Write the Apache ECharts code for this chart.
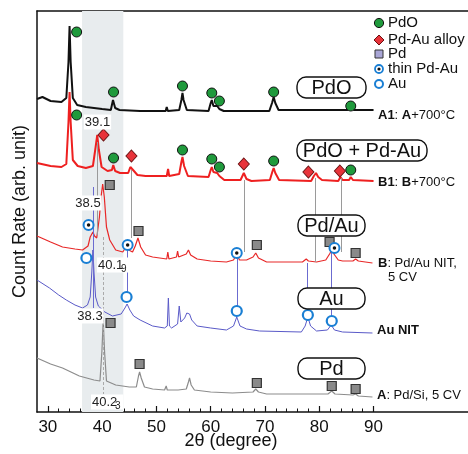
<!DOCTYPE html>
<html>
<head>
<meta charset="utf-8">
<script src="https://cdn.jsdelivr.net/npm/echarts@6/dist/echarts.min.js"></script>
<style>html,body{margin:0;padding:0;background:#fff}#chart{width:468px;height:454px}</style>
</head>
<body>
<div id="chart"></div>
<script>
// 2-theta tick labels and minor ticks
const tickLabels = [30, 40, 50, 60, 70, 80, 90];
const minorTicks = [32, 34, 36, 38, 42, 44, 46, 48, 52, 54, 56, 58, 62, 64, 66, 68, 72, 74, 76, 78, 82, 84, 86, 88];

// scans: [2theta, counts (arb.)]
const scanA1 = [[28.0,313],[29.0,315],[30.5,311],[32.5,310],[33.4,314],[33.8,350],[34.0,386],[34.2,350],[34.6,314],[35.4,307],[37.0,305],[40.0,303],[41.6,302],[42.0,312],[42.4,304],[43.2,302],[47.0,301],[51.7,301],[51.9,305],[52.1,301],[54.2,302],[54.6,312],[54.8,319],[55.0,312],[55.6,302],[59.6,301],[60.0,309],[60.2,312],[60.5,306],[61.2,306],[61.6,303],[62.4,301],[70.8,301],[71.3,309],[71.6,315],[71.9,309],[72.5,302],[85.2,302],[85.8,305],[86.4,302],[90.0,302]];
const scanB1 = [[28.0,249],[30.5,246],[32.5,245],[33.4,248],[33.8,290],[34.0,320],[34.2,290],[34.6,252],[35.5,246],[37.0,244],[38.3,246],[38.8,265],[39.1,277],[39.4,262],[39.9,245],[41.0,241],[41.8,242],[42.05,247],[42.4,241],[43.3,239],[44.8,239],[45.2,245],[45.4,247],[45.7,242],[46.5,237],[48.0,236],[51.9,236],[52.15,243],[52.35,236],[54.2,238],[54.6,250],[54.8,255],[55.1,246],[55.8,236],[59.6,235],[60.0,242],[60.2,245],[60.5,240],[61.2,239],[61.6,236],[62.5,232],[65.5,232],[66.1,239],[66.6,233],[67.5,231],[70.9,232],[71.4,241],[71.6,244],[71.9,239],[72.6,232],[78.5,231],[79.0,236],[79.4,239],[79.8,235],[80.5,232],[83.5,231],[83.9,235],[84.3,232],[85.5,232],[85.8,235],[86.2,232],[90.0,231]];
const scanB = [[28.0,176],[30.5,170],[32.7,165],[35.0,163],[36.4,162],[37.4,166],[37.8,175],[38.3,180],[38.6,176],[39.0,174],[39.5,195],[39.8,215],[40.1,228],[40.4,215],[40.8,185],[41.4,172],[42.5,162],[43.8,160],[44.4,165],[44.65,169],[44.9,162],[45.6,160],[46.1,166],[46.6,174],[47.1,165],[48.0,157],[49.3,155],[51.9,153],[52.1,160],[52.3,153],[53.7,155],[53.9,161],[54.1,155],[55.5,158],[55.9,162],[56.3,157],[57.5,153],[60.0,151],[62.9,150],[64.2,152],[64.8,158],[65.3,152],[66.6,152],[67.8,155],[68.3,159],[68.8,154],[70.3,150],[76.9,150],[77.6,153],[78.0,151],[79.5,150],[81.2,152],[81.9,158],[82.3,162],[82.7,158],[83.5,152],[84.3,151],[86.2,151],[86.7,153],[87.2,151],[89.8,149]];
const scanAuNIT = [[28.0,132],[30.3,124],[32.0,117],[33.4,112],[35.0,107],[36.4,104],[37.3,107],[37.8,115],[38.1,140],[38.3,162],[38.5,140],[38.8,115],[39.3,106],[40.5,100],[41.9,96],[43.5,98],[44.2,104],[44.6,108],[45.1,102],[45.8,96],[47.0,92],[49.3,86],[51.5,84],[52.0,86],[52.2,114],[52.4,86],[52.8,84],[53.9,88],[54.2,106],[54.5,90],[55.2,94],[55.6,99],[56.1,98],[56.5,92],[57.5,86],[60.0,84],[62.9,82],[64.2,86],[64.8,95],[65.4,86],[66.6,83],[69.0,81],[76.7,80],[77.4,86],[77.9,95],[78.4,86],[79.5,81],[81.5,82],[82.2,87],[82.8,82],[84.3,80],[89.8,79]];
const scanA = [[28.0,54],[30.5,48],[32.7,44],[35.8,36],[38.5,32],[39.6,31],[39.95,60],[40.2,92],[40.45,60],[40.8,31],[42.5,27],[45.0,25],[46.3,25],[46.7,36],[46.9,40],[47.2,34],[47.8,25],[49.3,23],[51.5,22],[51.8,26],[52.0,22],[53.4,22],[53.7,24],[54.0,22],[55.5,23],[55.9,30],[56.1,34],[56.4,27],[57.0,22],[60.0,20],[64.0,19],[67.8,20],[68.3,23],[68.8,20],[70.3,18],[81.6,18],[82.3,21],[82.9,18],[86.2,17],[86.7,18],[87.2,16],[89.8,15]];

// phase markers [2theta, height]
const pdoMarks = [[35.3,380],[42.1,320],[54.8,326],[60.2,319],[61.6,311],[71.6,320],[85.8,306],
                  [35.3,297],[42.1,254],[54.8,262],[60.2,253],[61.6,245],[71.6,251],[85.8,242]];
const alloyMarks = [[40.25,277],[45.4,256],[66.1,248],[78.0,240],[83.8,241]];
const pdMarks = [[41.4,227],[46.7,181],[68.5,167],[81.9,170],[86.7,159],
                 [41.55,89],[46.9,48],[68.5,29],[82.3,26],[86.7,23]];
const thinMarks = [[37.5,187],[44.7,167],[64.8,159],[82.8,164]];
const auMarks = [[37.1,154],[44.5,115],[64.8,101],[77.9,97],[82.3,91]];

// guide lines [2theta, from, to]
const grayGuides = [[39.1,270,177],[45.4,242,174],[66.1,232,160],[79.3,234,150],[84.0,234,160]];
const blueGuides = [[38.3,225,104],[44.6,164,120],[64.8,154,106],[77.8,149,102],[82.2,162,96]];
const dashGuide = [40.2,175,18];
const band = [36.3, 43.9];

const FONT = 'Liberation Sans, Arial, sans-serif';
const chart = echarts.init(document.getElementById('chart'));

const guide = (arr, color, type) => arr.map(g => [
  {coord: [g[0], g[1]], lineStyle: {color: color, width: 1, type: type}},
  {coord: [g[0], g[2]]}
]);

function lineSeries(data, color, width) {
  return {type: 'line', data: data, showSymbol: false, symbol: 'none', smooth: false,
    lineStyle: {color: color, width: width}, z: 3, silent: true};
}

function marks(data, symbol, size, color, border, bw) {
  return {type: 'scatter', data: data, symbol: symbol, symbolSize: size, z: 5, silent: true,
    itemStyle: {color: color, borderColor: border, borderWidth: bw, opacity: 1}};
}

const boxes = [
  {x: 297, y: 77, w: 69, text: 'PdO'},
  {x: 297, y: 140, w: 130, text: 'PdO + Pd-Au'},
  {x: 298, y: 215, w: 67, text: 'Pd/Au'},
  {x: 298, y: 288, w: 67, text: 'Au'},
  {x: 298, y: 358, w: 67, text: 'Pd'}
];

const graphics = [];
boxes.forEach(b => {
  graphics.push({type: 'rect', shape: {x: b.x, y: b.y, width: b.w, height: 21, r: 9}, z: 20,
    style: {fill: '#fff', stroke: '#111', lineWidth: 1.4}});
  graphics.push({type: 'text', x: b.x + b.w / 2, y: b.y + 11, z: 21,
    style: {text: b.text, font: '20px ' + FONT, fill: '#111', align: 'center', verticalAlign: 'middle'}});
});

const rich = {b: {fontWeight: 'bold', fontSize: 13, fontFamily: FONT, fill: '#111'},
              n: {fontSize: 13, fontFamily: FONT, fill: '#111'}};
[
  [378, 115, '{b|A1}{n|: }{b|A}{n|+700°C}'],
  [378, 182, '{b|B1}{n|: }{b|B}{n|+700°C}'],
  [378, 263, '{b|B}{n|: Pd/Au NIT,}'],
  [388, 277, '{n|5 CV}'],
  [377, 330, '{b|Au NIT}'],
  [377, 395, '{b|A}{n|: Pd/Si, 5 CV}']
].forEach(t => graphics.push({type: 'text', x: t[0], y: t[1], z: 21,
  style: {text: t[2], rich: rich, align: 'left', verticalAlign: 'middle'}}));

// peak position labels
[[97.5, 122, '39.1'], [88, 203, '38.5'], [90, 316, '38.3']].forEach(t => graphics.push({
  type: 'text', x: t[0], y: t[1], z: 21,
  style: {text: t[2], font: '13px ' + FONT, fill: '#222', align: 'center', verticalAlign: 'middle',
    backgroundColor: '#fff', padding: [1, 1]}}));
[[97, 265, '40.1', '9'], [91, 402, '40.2', '3']].forEach(t => {
  graphics.push({type: 'text', x: t[0], y: t[1], z: 21,
    style: {text: t[2], font: '13px ' + FONT, fill: '#222', align: 'left', verticalAlign: 'middle',
      backgroundColor: '#fff', padding: [1, 6, 1, 1]}});
  graphics.push({type: 'text', x: t[0] + 24, y: t[1] + 4, z: 22,
    style: {text: t[3], font: '10px ' + FONT, fill: '#222', align: 'left', verticalAlign: 'middle'}});
});

// legend
const lx = 379, ltx = 388;
const legendRows = [23, 40, 54, 69, 84];
const legendText = ['PdO', 'Pd-Au alloy', 'Pd', 'thin Pd-Au', 'Au'];
graphics.push({type: 'circle', shape: {cx: lx, cy: legendRows[0], r: 4.6}, z: 20, style: {fill: '#1f9a3c', stroke: '#111', lineWidth: 1}});
graphics.push({type: 'polygon', shape: {points: [[lx, legendRows[1] - 5], [lx + 5, legendRows[1]], [lx, legendRows[1] + 5], [lx - 5, legendRows[1]]]}, z: 20, style: {fill: '#e8333a', stroke: '#6a1010', lineWidth: 1}});
graphics.push({type: 'rect', shape: {x: lx - 4, y: legendRows[2] - 4, width: 8, height: 8}, z: 20, style: {fill: '#a9a6d6', stroke: '#333', lineWidth: 1}});
graphics.push({type: 'circle', shape: {cx: lx, cy: legendRows[3], r: 4}, z: 20, style: {fill: '#fff', stroke: '#1a7fd4', lineWidth: 1.8}});
graphics.push({type: 'circle', shape: {cx: lx, cy: legendRows[3], r: 1.6}, z: 21, style: {fill: '#111'}});
graphics.push({type: 'circle', shape: {cx: lx, cy: legendRows[4], r: 4}, z: 20, style: {fill: '#fff', stroke: '#1a7fd4', lineWidth: 2}});
legendText.forEach((t, i) => graphics.push({type: 'text', x: ltx, y: legendRows[i], z: 20,
  style: {text: t, font: '15px ' + FONT, fill: '#111', align: 'left', verticalAlign: 'middle'}}));

// axis title
graphics.push({type: 'text', x: 231, y: 441, z: 20,
  style: {text: '2θ (degree)', font: '18px ' + FONT, fill: '#111', align: 'center', verticalAlign: 'middle'}});

const axisBase = {type: 'value', min: 28, max: 107.4, gridIndex: 0, splitLine: {show: false}};

chart.setOption({
  animation: false,
  backgroundColor: '#fff',
  grid: {left: 37, right: 0, top: 11, bottom: 42},
  xAxis: [
    Object.assign({}, axisBase, {position: 'bottom',
      axisLine: {lineStyle: {color: '#111', width: 1.5}},
      axisTick: {inside: true, length: 6, customValues: tickLabels, lineStyle: {color: '#111', width: 1.2}},
      axisLabel: {customValues: tickLabels, fontSize: 17, fontFamily: FONT, color: '#111', margin: 7}}),
    Object.assign({}, axisBase, {position: 'bottom', axisLine: {show: false},
      axisTick: {inside: true, length: 3.5, customValues: minorTicks, lineStyle: {color: '#111', width: 1}},
      axisLabel: {show: false}}),
    Object.assign({}, axisBase, {position: 'top', axisLine: {lineStyle: {color: '#111', width: 1.5}},
      axisTick: {show: false}, axisLabel: {show: false}})
  ],
  yAxis: {type: 'value', min: 0, max: 401, splitLine: {show: false},
    axisLine: {show: true, lineStyle: {color: '#111', width: 1.5}},
    axisTick: {show: false}, axisLabel: {show: false},
    name: 'Count Rate (arb. unit)', nameLocation: 'middle', nameGap: 8, nameRotate: 90,
    nameTextStyle: {fontSize: 18, fontFamily: FONT, color: '#111'}},
  graphic: graphics,
  series: [
    {type: 'line', data: [], silent: true, z: 0,
      markArea: {silent: true, itemStyle: {color: '#e8ecee'}, data: [[{xAxis: band[0]}, {xAxis: band[1]}]]}},
    {type: 'line', data: [], silent: true, z: 2,
      markLine: {silent: true, symbol: 'none', label: {show: false},
        data: guide(grayGuides, '#9a9a9a', 'solid').concat(guide(blueGuides, '#6b6bd0', 'solid'))
          .concat(guide([dashGuide], '#aaaaaa', [3, 2]))}},
    lineSeries(scanA, '#8c8c8c', 1.2),
    lineSeries(scanAuNIT, '#5a5ac8', 1),
    lineSeries(scanB, '#e82828', 1.2),
    lineSeries(scanB1, '#ee2020', 2),
    lineSeries(scanA1, '#111111', 2),
    marks(pdoMarks, 'circle', 10, '#1f9a3c', '#111', 1),
    marks(alloyMarks, 'diamond', [11, 12], '#e8333a', '#6a1010', 1),
    marks(pdMarks, 'rect', 9, '#8a8a8a', '#333', 1.2),
    marks(thinMarks, 'circle', 10, '#ffffff', '#1a7fd4', 2),
    marks(thinMarks, 'circle', 3.5, '#111111', '#111', 0),
    marks(auMarks, 'circle', 10, '#ffffff', '#1a7fd4', 2.2)
  ]
});
</script>
</body>
</html>
